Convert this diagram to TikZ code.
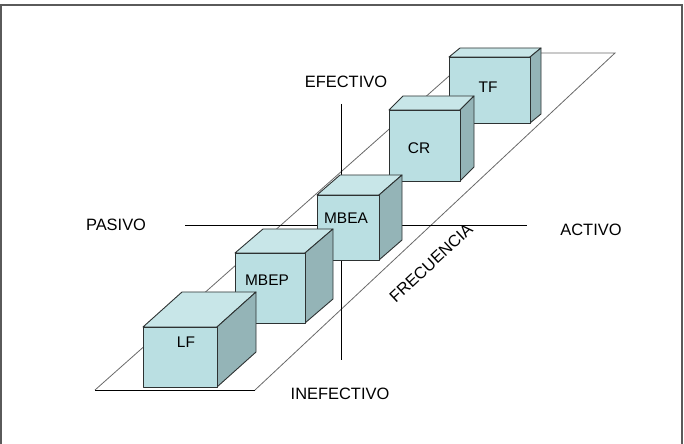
\documentclass[tikz,border=0pt]{standalone}
\usepackage{fontspec}
\setmainfont{Liberation Sans}
\definecolor{frontc}{RGB}{186,223,226}
\definecolor{topc}{RGB}{200,230,232}
\definecolor{sidec}{RGB}{148,180,183}
\definecolor{edgec}{RGB}{45,50,50}
\definecolor{framec}{RGB}{90,90,90}
\definecolor{planec}{RGB}{105,105,105}
\newcommand\cubebox[6]{%
  \filldraw[facetop] (#1,#2) -- ++(#5,#6) -- ++({#3-#1},0) -- (#3,#2) -- cycle;
  \filldraw[faceside] (#3,#2) -- ++(#5,#6) -- ++(0,{#4-#2}) -- (#3,#4) -- cycle;
  \filldraw[facefront] (#1,#2) rectangle (#3,#4);
}
\tikzset{
  facefront/.style={fill=frontc, draw=edgec, line width=0.9bp, line join=round},
  facetop/.style={fill=topc, draw=edgec, line width=0.9bp, line join=round},
  faceside/.style={fill=sidec, draw=edgec, line width=0.9bp, line join=round},
  lbl/.style={font=\fontsize{15.5}{18}\selectfont, inner sep=0pt, text=black},
  axlbl/.style={font=\fontsize{16.5}{19}\selectfont, inner sep=0pt, text=black},
  plane/.style={draw=planec, line width=0.8bp},
  axis/.style={draw=black, line width=0.8bp}
}
\begin{document}
\begin{tikzpicture}[x=1bp,y=-1bp]
\useasboundingbox (0,0) rectangle (684,444);
% outer frame
\draw[framec, line width=1.2bp] (1,444) -- (1,5) -- (682,5) -- (682,444);
% plane
\coordinate (p1) at (95,390);
\coordinate (p2) at (255,390);
\coordinate (p3) at (615,53);
\coordinate (p4) at (475,53);
\draw[plane] (p2) -- (p3) -- (p4) -- (p1);
\draw[axis] (p1) -- (p2);
% axes
\coordinate (ax1) at (185,225);
\coordinate (ax2) at (527,225);
\coordinate (ay1) at (341,104);
\coordinate (ay2) at (341,360);
\draw[axis] (ax1) -- (ax2);
\draw[axis] (ay1) -- (ay2);
% cubes, back to front
\cubebox{449}{57}{530}{123}{11}{-9}
\cubebox{389}{110}{460}{181}{14}{-14}
\cubebox{317}{195}{379}{260}{23}{-20}
\cubebox{235}{253}{305}{323}{28}{-24}
\cubebox{143}{327}{217}{387}{39}{-35}
\node[lbl] (tf) at (488,87) {TF};
\node[lbl] (cr) at (419,148) {CR};
\node[lbl] (mbea) at (346,218) {MBEA};
\node[lbl] (mbep) at (267,280) {MBEP};
\node[lbl] (lf) at (186,342) {LF};
% axis labels
\node[axlbl] (efe) at (346,82) {EFECTIVO};
\node[axlbl] (ine) at (340,394) {INEFECTIVO};
\node[axlbl] (pas) at (116,225) {PASIVO};
\node[axlbl] (act) at (591,230) {ACTIVO};
\node[axlbl, rotate=43] (fre) at (431,263) {FRECUENCIA};
\end{tikzpicture}
\end{document}
